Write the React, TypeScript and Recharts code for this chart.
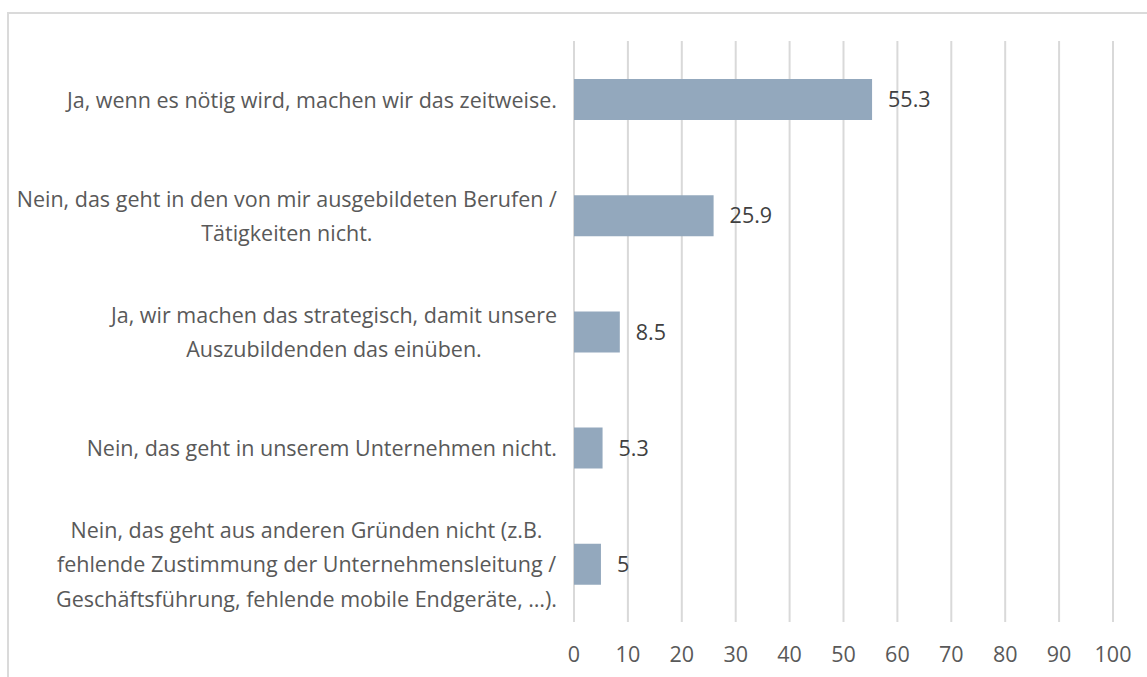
import React from "react";
import { BarChart, Bar, XAxis, YAxis, CartesianGrid, LabelList } from "recharts";

const categories = [
  "Ja, wenn es nötig wird, machen wir das zeitweise.",
  "Nein, das geht in den von mir ausgebildeten Berufen /\nTätigkeiten nicht.",
  "Ja, wir machen das strategisch, damit unsere\nAuszubildenden das einüben.",
  "Nein, das geht in unserem Unternehmen nicht.",
  "Nein, das geht aus anderen Gründen nicht (z.B.\nfehlende Zustimmung der Unternehmensleitung /\nGeschäftsführung, fehlende mobile Endgeräte, …).",
];
const values = [55.3, 25.9, 8.5, 5.3, 5];
const xTicks = [0, 10, 20, 30, 40, 50, 60, 70, 80, 90, 100];

const FONT = "'Open Sans', Lato, sans-serif";
const FONT_SIZE = 21.5;
const LINE_H = 34.5;
const LABEL_RIGHT = 557;

const data = categories.map((name, i) => ({ name, value: values[i] }));

let ctx: CanvasRenderingContext2D | null = null;
function textWidth(s: string) {
  if (!ctx) ctx = document.createElement("canvas").getContext("2d");
  if (!ctx) return s.length * FONT_SIZE * 0.5;
  ctx.font = `${FONT_SIZE}px 'Open Sans'`;
  return ctx.measureText(s).width;
}

function CategoryTick({ y, payload }: any) {
  const lines: string[] = String(payload.value).split("\n");
  const maxW = Math.max(...lines.map(textWidth));
  const cx = LABEL_RIGHT - maxW / 2;
  const y0 = y - ((lines.length - 1) / 2) * LINE_H;
  return (
    <text textAnchor="middle" fill="#595959" fontSize={FONT_SIZE} fontFamily={FONT}>
      {lines.map((l, i) => (
        <tspan key={i} x={cx} y={y0 + i * LINE_H} dominantBaseline="central">
          {l}
        </tspan>
      ))}
    </text>
  );
}

export default function App() {
  return (
    <div style={{ position: "fixed", left: 0, top: 0, width: 1147, height: 677, background: "#fff", overflow: "hidden" }}>
      <div
        style={{
          position: "absolute",
          left: 7,
          top: 12,
          width: 1200,
          height: 800,
          borderTop: "2px solid #DADADA",
          borderLeft: "2px solid #DADADA",
        }}
      />
      <div style={{ position: "absolute", left: 0, top: 0 }}>
        <BarChart
          width={1147}
          height={677}
          data={data}
          layout="vertical"
          margin={{ top: 41, right: 34, bottom: 5, left: 0 }}
        >
          <CartesianGrid horizontal={false} stroke="#D9D9D9" strokeWidth={2} />
          <XAxis
            type="number"
            domain={[0, 100]}
            ticks={xTicks}
            axisLine={false}
            tickLine={false}
            tickSize={0}
            tickMargin={25}
            height={50}
            interval={0}
            tick={{ fill: "#595959", fontSize: FONT_SIZE, fontFamily: FONT }}
          />
          <YAxis
            type="category"
            dataKey="name"
            width={574}
            axisLine={false}
            tickLine={false}
            interval={0}
            tick={<CategoryTick />}
          />
          <Bar dataKey="value" fill="#93A8BD" barSize={41} isAnimationActive={false}>
            <LabelList
              dataKey="value"
              position="right"
              offset={16}
              fill="#404040"
              fontSize={FONT_SIZE}
              fontFamily={FONT}
            />
          </Bar>
        </BarChart>
      </div>
    </div>
  );
}
